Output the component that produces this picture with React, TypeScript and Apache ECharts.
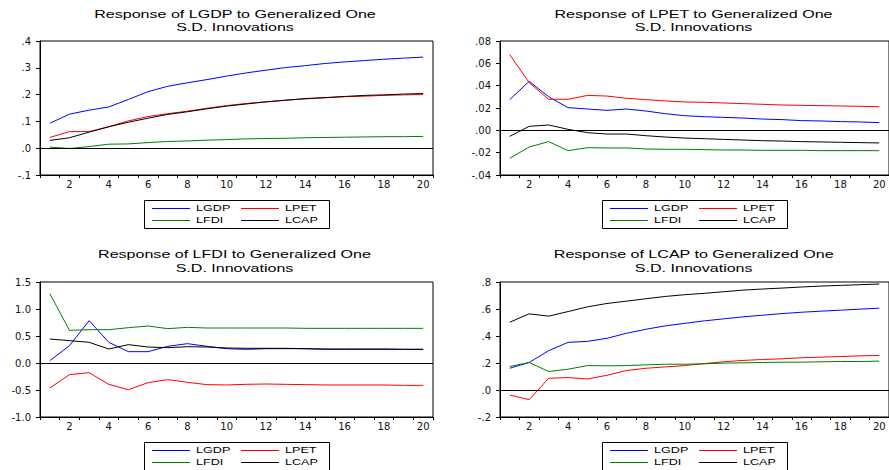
import React, { useEffect, useRef } from "react";
import * as echarts from "echarts";

// Horizon (periods)
const periods = ["1","2","3","4","5","6","7","8","9","10","11","12","13","14","15","16","17","18","19","20"];
const seriesNames = ["LGDP", "LPET", "LFDI", "LCAP"];
const seriesColors = ["#0000FF", "#FF0000", "#008000", "#000000"];

// Panel 1: Response of LGDP
const rLGDP_LGDP = [0.093,0.127,0.142,0.154,0.182,0.211,0.231,0.244,0.256,0.269,0.281,0.291,0.301,0.308,0.316,0.322,0.327,0.332,0.336,0.340];
const rLGDP_LPET = [0.040,0.062,0.062,0.080,0.102,0.118,0.129,0.138,0.149,0.159,0.167,0.173,0.179,0.184,0.188,0.192,0.194,0.197,0.199,0.200];
const rLGDP_LFDI = [0.004,-0.001,0.006,0.015,0.016,0.021,0.025,0.027,0.030,0.032,0.035,0.036,0.037,0.039,0.040,0.041,0.042,0.043,0.043,0.044];
const rLGDP_LCAP = [0.029,0.039,0.060,0.080,0.097,0.112,0.126,0.136,0.147,0.157,0.165,0.173,0.179,0.185,0.189,0.193,0.197,0.199,0.202,0.204];

// Panel 2: Response of LPET
const rLPET_LGDP = [0.0275,0.0439,0.0301,0.0203,0.0191,0.0179,0.0191,0.0173,0.0149,0.0131,0.0122,0.0116,0.0110,0.0101,0.0096,0.0087,0.0084,0.0078,0.0075,0.0069];
const rLPET_LPET = [0.0678,0.0427,0.0278,0.0278,0.0313,0.0307,0.0287,0.0275,0.0263,0.0254,0.0251,0.0245,0.0239,0.0233,0.0227,0.0224,0.0221,0.0218,0.0215,0.0212];
const rLPET_LFDI = [-0.0251,-0.0149,-0.0101,-0.0182,-0.0155,-0.0158,-0.0158,-0.0167,-0.0170,-0.0170,-0.0173,-0.0176,-0.0176,-0.0179,-0.0179,-0.0179,-0.0182,-0.0182,-0.0182,-0.0182];
const rLPET_LCAP = [-0.0054,0.0036,0.0048,0.0009,-0.0021,-0.0033,-0.0033,-0.0048,-0.0060,-0.0069,-0.0075,-0.0081,-0.0087,-0.0093,-0.0096,-0.0101,-0.0104,-0.0107,-0.0110,-0.0113];

// Panel 3: Response of LFDI
const rLFDI_LGDP = [0.043,0.321,0.784,0.383,0.210,0.210,0.309,0.358,0.309,0.265,0.253,0.265,0.265,0.265,0.253,0.253,0.253,0.253,0.253,0.253];
const rLFDI_LPET = [-0.463,-0.216,-0.179,-0.395,-0.494,-0.364,-0.309,-0.358,-0.401,-0.407,-0.395,-0.389,-0.395,-0.401,-0.407,-0.407,-0.407,-0.407,-0.414,-0.414];
const rLFDI_LFDI = [1.284,0.605,0.617,0.617,0.654,0.685,0.636,0.660,0.648,0.648,0.648,0.648,0.648,0.642,0.642,0.642,0.642,0.642,0.642,0.642];
const rLFDI_LCAP = [0.444,0.414,0.383,0.259,0.340,0.296,0.284,0.302,0.296,0.278,0.272,0.272,0.272,0.265,0.259,0.259,0.259,0.259,0.253,0.253];

// Panel 4: Response of LCAP
const rLCAP_LGDP = [0.161,0.204,0.291,0.353,0.360,0.383,0.420,0.450,0.475,0.494,0.512,0.527,0.542,0.554,0.566,0.576,0.584,0.591,0.599,0.606];
const rLCAP_LPET = [-0.037,-0.072,0.087,0.092,0.082,0.109,0.144,0.161,0.171,0.181,0.196,0.209,0.219,0.226,0.231,0.239,0.243,0.248,0.253,0.256];
const rLCAP_LFDI = [0.174,0.204,0.137,0.154,0.181,0.179,0.181,0.186,0.191,0.191,0.194,0.199,0.201,0.204,0.206,0.206,0.209,0.211,0.211,0.214];
const rLCAP_LCAP = [0.502,0.564,0.547,0.581,0.616,0.641,0.658,0.676,0.693,0.706,0.716,0.728,0.740,0.748,0.755,0.763,0.770,0.775,0.780,0.785];

const panelData = [
  [rLGDP_LGDP, rLGDP_LPET, rLGDP_LFDI, rLGDP_LCAP],
  [rLPET_LGDP, rLPET_LPET, rLPET_LFDI, rLPET_LCAP],
  [rLFDI_LGDP, rLFDI_LPET, rLFDI_LFDI, rLFDI_LCAP],
  [rLCAP_LGDP, rLCAP_LPET, rLCAP_LFDI, rLCAP_LCAP],
];

const panelTitles = [
  "Response of LGDP to Generalized One",
  "Response of LPET to Generalized One",
  "Response of LFDI to Generalized One",
  "Response of LCAP to Generalized One",
];
const titleLine2 = "S.D. Innovations";

// Y-axis scales
const yMin = [-0.1, -0.04, -1.0, -0.2];
const yMax = [0.4, 0.08, 1.5, 0.8];
const yStep = [0.1, 0.02, 0.5, 0.2];
const yDecimals = [1, 2, 1, 1];
const yLeadingZero = [false, false, true, false];

// Layout (positions/sizes)
const grids = [
  { left: 40, top: 41, width: 393, height: 134 },
  { left: 500, top: 41, width: 390, height: 134 },
  { left: 40, top: 282, width: 393, height: 135 },
  { left: 500, top: 282, width: 390, height: 135 },
];
const titlePos = [
  { x: 235, y1: 14, y2: 27.5 },
  { x: 693.5, y1: 14, y2: 27.5 },
  { x: 234.5, y1: 254.7, y2: 268.3 },
  { x: 693.7, y1: 254.7, y2: 268.3 },
];
const legendPos = [
  { x: 144, y: 200 },
  { x: 602, y: 200 },
  { x: 144, y: 442 },
  { x: 602, y: 442 },
];

const FONT = '"Liberation Sans", Arial, sans-serif';

function fmtY(v: number, d: number, lead: boolean): string {
  let s = v.toFixed(d);
  if (s.startsWith("-") && Math.abs(v) < 1e-12) s = s.slice(1);
  if (!lead) s = s.replace(/^(-?)0\./, "$1.");
  return s;
}

export default function App() {
  const ref = useRef<HTMLDivElement>(null);
  useEffect(() => {
    if (!ref.current) return;
    const chart = echarts.init(ref.current, undefined, { renderer: "svg" });

    const xAxes: any[] = [];
    const yAxes: any[] = [];
    const series: any[] = [];
    const graphics: any[] = [];

    for (let p = 0; p < 4; p++) {
      xAxes.push({
        type: "category",
        gridIndex: p,
        data: periods,
        boundaryGap: true,
        axisLine: { onZero: false, lineStyle: { color: "#000", width: 1 } },
        axisTick: { show: true, interval: 0, length: 3, lineStyle: { color: "#000" } },
        axisLabel: {
          interval: (i: number) => i % 2 === 1,
          margin: 4,
          color: "#111",
          fontSize: 10,
          fontFamily: '"DejaVu Sans", sans-serif',
        },
        splitLine: { show: false },
      });
      yAxes.push({
        type: "value",
        gridIndex: p,
        min: yMin[p],
        max: yMax[p],
        interval: yStep[p],
        axisLine: { show: true, lineStyle: { color: "#000", width: 1 } },
        axisTick: { show: true, length: 4, lineStyle: { color: "#000" } },
        axisLabel: {
          margin: 9,
          color: "#111",
          fontSize: 10,
          fontFamily: '"DejaVu Sans", sans-serif',
          formatter: (v: number) => fmtY(v, yDecimals[p], yLeadingZero[p]),
        },
        splitLine: { show: false },
      });
      panelData[p].forEach((arr, k) => {
        series.push({
          type: "line",
          name: seriesNames[k],
          xAxisIndex: p,
          yAxisIndex: p,
          data: arr,
          symbol: "none",
          lineStyle: { color: seriesColors[k], width: 1 },
          itemStyle: { color: seriesColors[k] },
          markLine:
            k === 0
              ? {
                  silent: true,
                  symbol: ["none", "none"],
                  label: { show: false },
                  lineStyle: { color: "#000", type: "solid", width: 1 },
                  data: [{ yAxis: 0 }],
                }
              : undefined,
        });
      });

      // Titles
      const tp = titlePos[p];
      [
        { t: panelTitles[p], y: tp.y1 },
        { t: titleLine2, y: tp.y2 },
      ].forEach((o) => {
        graphics.push({
          type: "text",
          x: tp.x,
          y: o.y,
          scaleX: 1.46,
          style: {
            text: o.t,
            fontSize: 11,
            fontFamily: FONT,
            fill: "#000",
            textAlign: "center",
            textVerticalAlign: "middle",
          },
        });
      });

      // Legend box
      const lp = legendPos[p];
      graphics.push({
        type: "rect",
        shape: { x: lp.x + 0.5, y: lp.y + 0.5, width: 185, height: 28 },
        style: { fill: "#fff", stroke: "#000", lineWidth: 1 },
      });
      const rows = [lp.y + 8, lp.y + 20];
      const cols = [lp.x + 8, lp.x + 97];
      seriesNames.forEach((nm, k) => {
        const cx = cols[k % 2];
        const cy = rows[Math.floor(k / 2)];
        graphics.push({
          type: "line",
          shape: { x1: cx, y1: cy + 0.5, x2: cx + 38, y2: cy + 0.5 },
          style: { stroke: seriesColors[k], lineWidth: 1 },
        });
        graphics.push({
          type: "text",
          x: cx + 44,
          y: cy,
          scaleX: 1.4,
          style: {
            text: nm,
            fontSize: 9,
            fontFamily: FONT,
            fill: "#000",
            textAlign: "left",
            textVerticalAlign: "middle",
          },
        });
      });
    }

    chart.setOption({
      animation: false,
      backgroundColor: "#fff",
      grid: grids.map((g) => ({
        ...g,
        show: true,
        borderColor: "#000",
        borderWidth: 1,
        backgroundColor: "transparent",
      })),
      xAxis: xAxes,
      yAxis: yAxes,
      series,
      graphic: graphics,
    });
    return () => chart.dispose();
  }, []);
  return (
    <div
      ref={ref}
      style={{ position: "absolute", left: 0, top: 0, width: 889, height: 470 }}
    />
  );
}
